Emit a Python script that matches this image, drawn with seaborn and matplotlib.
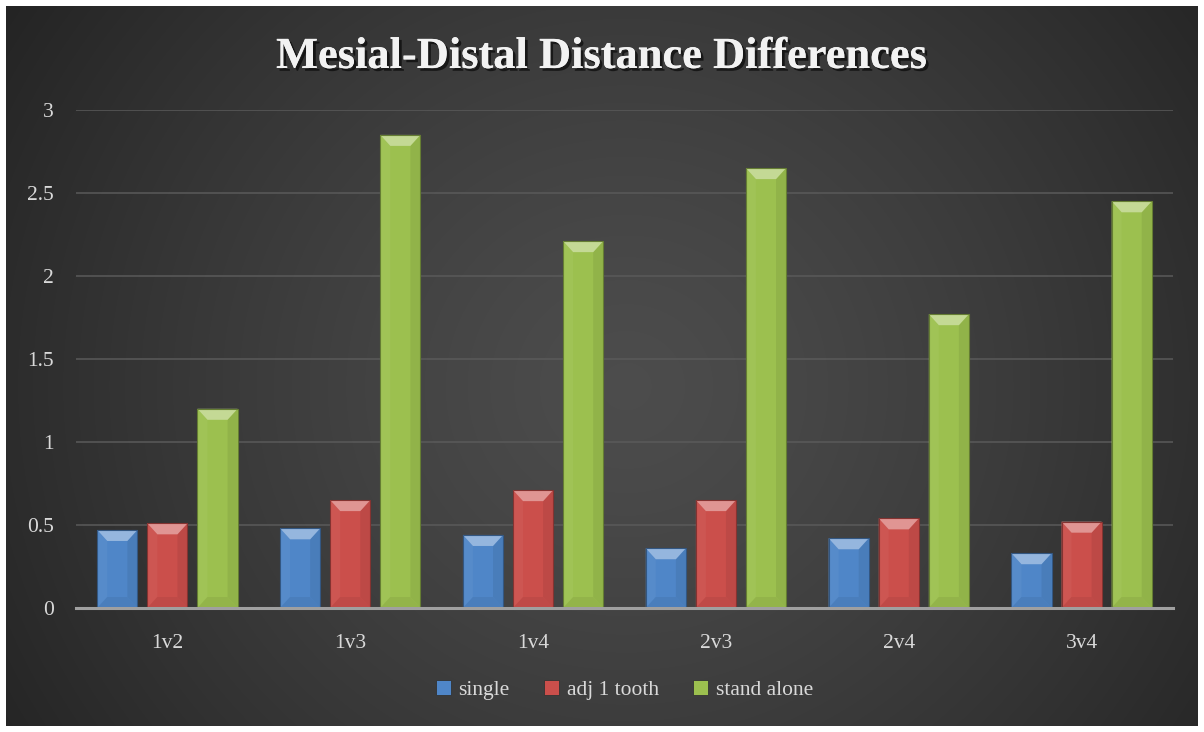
import numpy as np
import pandas as pd
import seaborn as sns
import matplotlib
matplotlib.use("Agg")
import matplotlib.pyplot as plt
from matplotlib.patches import Polygon
import matplotlib.patheffects as pe
from matplotlib.colors import to_rgb

categories = ["1v2", "1v3", "1v4", "2v3", "2v4", "3v4"]
series_names = ["single", "adj 1 tooth", "stand alone"]
single = [0.47, 0.48, 0.44, 0.36, 0.42, 0.33]
adj_1_tooth = [0.51, 0.65, 0.71, 0.65, 0.54, 0.52]
stand_alone = [1.20, 2.85, 2.21, 2.65, 1.77, 2.45]
yticks = [0, 0.5, 1, 1.5, 2, 2.5, 3]
ytick_labels = ["0", "0.5", "1", "1.5", "2", "2.5", "3"]
title = "Mesial-Distal Distance Differences"
colors = ["#4F86C8", "#CB4F4B", "#9CC04F"]

df = pd.DataFrame({
    "pair": categories * 3,
    "value": single + adj_1_tooth + stand_alone,
    "series": sum([[s] * len(categories) for s in series_names], []),
})

sns.set_theme(style="dark")
plt.rcParams["font.family"] = ["Liberation Serif", "DejaVu Serif"]

W, H = 1204, 732
fig = plt.figure(figsize=(W / 100, H / 100), dpi=100, facecolor="white")

# radial gradient background
bg = fig.add_axes([6 / W, 6 / H, 1192 / W, 720 / H])
bg.set_axis_off()
yy, xx = np.mgrid[0:720, 0:1192]
cx, cy = 620, 380
r = np.sqrt(((xx - cx) / 1.0) ** 2 + ((yy - cy) / 0.95) ** 2)
t = np.clip(r / 760, 0, 1)
inner, outer = 0.30, 0.135
img = inner + (outer - inner) * t ** 1.3
bg.imshow(np.dstack([img, img, img]), aspect="auto", extent=[0, 1, 0, 1], zorder=0)
bg.set_xlim(0, 1)
bg.set_ylim(0, 1)

ax = fig.add_axes([76 / W, 1 - 608 / H, (1173 - 76) / W, (608 - 110) / H])
ax.patch.set_alpha(0)
sns.barplot(data=df, x="pair", y="value", hue="series", palette=colors,
            width=0.822, gap=0.2, saturation=1, errorbar=None, ax=ax,
            edgecolor="none", zorder=3)

ax.set_ylim(0, 3)
ax.set_xlim(-0.5, len(categories) - 0.5)
ax.set_yticks(yticks)
ax.set_yticklabels(ytick_labels)
ax.set_xlabel("")
ax.set_ylabel("")
ax.grid(axis="y", color="#5a5a5a", linewidth=1.1, zorder=1)
ax.grid(axis="x", visible=False)
ax.set_axisbelow(True)
for s in ["top", "right", "left"]:
    ax.spines[s].set_visible(False)
ax.spines["bottom"].set_color("#a0a0a0")
ax.spines["bottom"].set_linewidth(2.2)
ax.spines["bottom"].set_zorder(5)
ax.tick_params(axis="y", length=0, pad=16, labelsize=15.5, labelcolor="#d9d9d9")
ax.tick_params(axis="x", length=0, pad=19, labelsize=15.5, labelcolor="#d9d9d9")

# bevel effect derived from bar geometry
px_x = (len(categories)) / (1173 - 76)
px_y = 3 / (608 - 110)
bx, by = 10 * px_x, 11 * px_y


def mix(c, other, f):
    c = np.array(to_rgb(c))
    o = np.array(to_rgb(other))
    return tuple(c * (1 - f) + o * f)


for cont, col in zip(ax.containers, colors):
    for p in cont.patches:
        x0, y0, w, h = p.get_x(), p.get_y(), p.get_width(), p.get_height()
        x1, y1 = x0 + w, y0 + h
        b_y = min(by, h / 2)
        # left side slightly lighter
        ax.add_patch(Polygon([(x0, y0), (x0 + bx, y0 + b_y), (x0 + bx, y1 - b_y), (x0, y1)],
                             closed=True, facecolor=mix(col, "white", 0.04), edgecolor="none", zorder=4))
        # right side slightly darker
        ax.add_patch(Polygon([(x1, y0), (x1 - bx, y0 + b_y), (x1 - bx, y1 - b_y), (x1, y1)],
                             closed=True, facecolor=mix(col, "black", 0.07), edgecolor="none", zorder=4))
        # top bright
        ax.add_patch(Polygon([(x0, y1), (x1, y1), (x1 - bx, y1 - b_y), (x0 + bx, y1 - b_y)],
                             closed=True, facecolor=mix(col, "white", 0.40), edgecolor="none", zorder=4))
        # bottom slightly darker
        ax.add_patch(Polygon([(x0, y0), (x1, y0), (x1 - bx, y0 + b_y), (x0 + bx, y0 + b_y)],
                             closed=True, facecolor=mix(col, "black", 0.06), edgecolor="none", zorder=4))
        # outline
        ax.add_patch(Polygon([(x0, y0), (x1, y0), (x1, y1), (x0, y1)], closed=True,
                             facecolor="none", edgecolor=mix(col, "black", 0.35), linewidth=0.8, zorder=4))

handles, labels = ax.get_legend_handles_labels()
leg = ax.legend(handles, labels, loc="center", bbox_to_anchor=(0.5, (608 - 690) / (608 - 110)),
                ncol=3, frameon=False, handlelength=0.7, handleheight=0.7,
                handletextpad=0.35, columnspacing=1.6, fontsize=15.5, labelcolor="#d9d9d9")
for hnd in leg.legend_handles:
    hnd.set_edgecolor("#333333")
    hnd.set_linewidth(0.6)

fig.text(0.5, 1 - 57 / H, title, ha="center", va="center", fontsize=32,
         fontweight="bold", color="#f2f2f2",
         path_effects=[pe.withSimplePatchShadow(offset=(2, -2), shadow_rgbFace="black", alpha=0.6),
                       pe.Normal()])

fig.savefig("out.png", dpi=100, facecolor="white")
